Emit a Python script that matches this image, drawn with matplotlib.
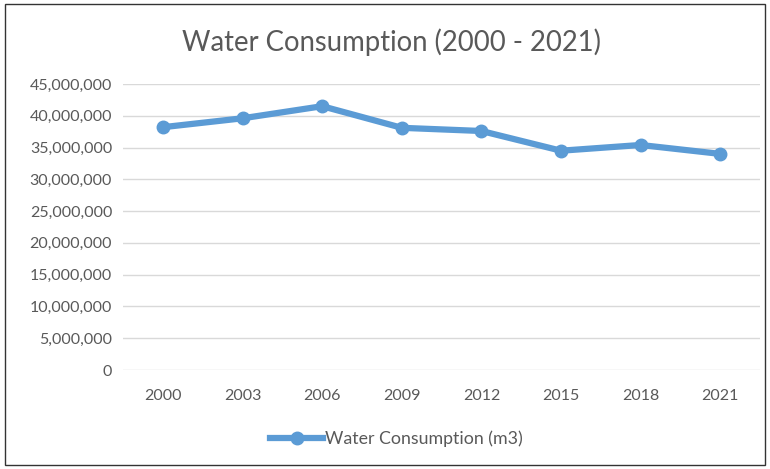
import matplotlib.pyplot as plt
from matplotlib.patches import Rectangle
from matplotlib.ticker import FuncFormatter

# Dati
years = ["2000", "2003", "2006", "2009", "2012", "2015", "2018", "2021"]
consumption = [38.2e6, 39.6e6, 41.5e6, 38.1e6, 37.6e6, 34.5e6, 35.4e6, 34.0e6]

plt.rcParams['font.family'] = ['Lato', 'DejaVu Sans']
text_col = '#595959'
line_col = '#5B9BD5'

fig = plt.figure(figsize=(7.7, 4.69), dpi=100)
ax = fig.add_axes([0.16, 0.211, 0.827, 0.61])

x = range(len(years))
ax.plot(x, consumption, color=line_col, lw=4.5, marker='o', ms=9,
        label='Water Consumption (m3)', zorder=3)

ax.set_xlim(-0.5, len(years) - 0.5)
ax.set_ylim(0, 45e6)
ax.set_yticks(range(0, 45000001, 5000000))
ax.yaxis.set_major_formatter(FuncFormatter(lambda v, p: f"{int(v):,}"))
ax.set_xticks(list(x))
ax.set_xticklabels(years)
ax.grid(axis='y', color='#D9D9D9', lw=1)
ax.set_axisbelow(True)
for s in ax.spines.values():
    s.set_visible(False)
ax.tick_params(length=0, labelsize=11.5, colors=text_col, pad=8)
ax.tick_params(axis='x', pad=14)

fig.text(0.508, 0.91, 'Water Consumption (2000 - 2021)', ha='center', va='center',
         fontsize=19.8, color=text_col)

fig.legend(loc='center', bbox_to_anchor=(0.515, 0.065), frameon=False,
           fontsize=12.8, labelcolor=text_col, handlelength=3, handletextpad=0.1)

# Bordo della figura
fig.patches.append(Rectangle((0.006, 0.008), 0.988, 0.984, transform=fig.transFigure,
                             fill=False, edgecolor='#333333', lw=1))

fig.savefig('out.png', dpi=100)
